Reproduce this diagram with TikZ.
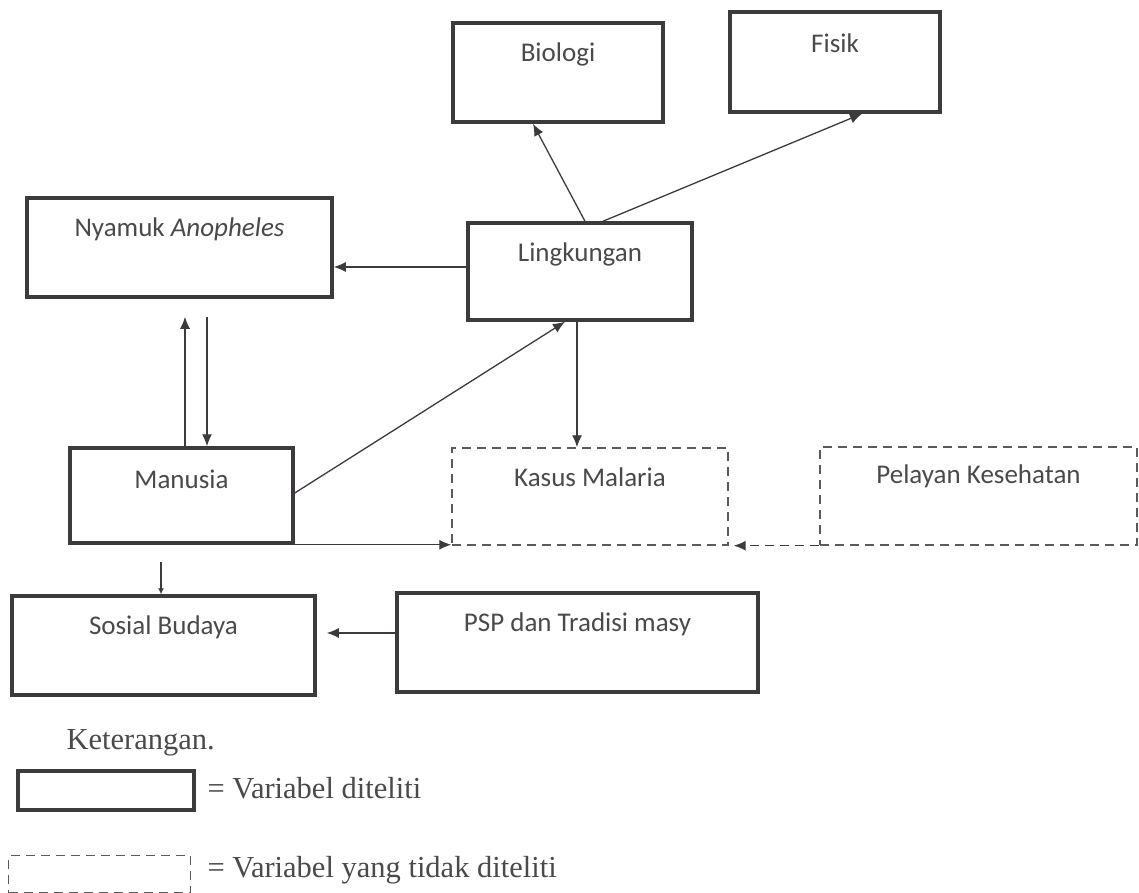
\documentclass[tikz,border=0pt]{standalone}
\usepackage{fontspec}
\usepackage{xcolor}
\usetikzlibrary{arrows.meta}
\newfontfamily\boxfont{Carlito}
\newfontfamily\legendfont{Liberation Serif}
\definecolor{borderdark}{RGB}{60, 58, 60}
\definecolor{textgray}{RGB}{74, 74, 74}
\definecolor{dashgray}{RGB}{90, 90, 90}

\begin{document}
\begin{tikzpicture}[
  x=1pt, y=-1pt,
  varbox/.style={rectangle, draw=borderdark, line width=3.5pt, inner sep=0pt},
  dashbox/.style={rectangle, draw=dashgray, line width=1.4pt, dash pattern=on 9pt off 6pt, inner sep=0pt},
  boxlabel/.style={anchor=center, yshift=-33pt, text=textgray, font=\boxfont\fontsize{27}{32}\selectfont},
  legendtext/.style={anchor=west, text=textgray, font=\legendfont\fontsize{30.5}{36}\selectfont},
  arrow/.style={-{Latex[length=12pt,width=10pt]}, line width=1.3pt, color=borderdark},
  smallarrow/.style={-{Latex[length=6pt,width=6pt]}, line width=1.1pt, color=borderdark}
]
\fill[white] (0,0) rectangle (1139,893);
\useasboundingbox (0,0) rectangle (1139,893);

% variables
\node[varbox, minimum width=210pt, minimum height=99pt, label={[boxlabel]north:Biologi}] (biologi) at (558,72.5) {};
\node[varbox, minimum width=210pt, minimum height=100pt, label={[boxlabel]north:Fisik}] (fisik) at (835,62) {};
\node[varbox, minimum width=305pt, minimum height=99pt, label={[boxlabel]north:Nyamuk \textit{Anopheles}}] (nyamuk) at (179.5,247.5) {};
\node[varbox, minimum width=224pt, minimum height=97pt, label={[boxlabel]north:Lingkungan}] (ling) at (580,271.5) {};
\node[varbox, minimum width=223pt, minimum height=95pt, label={[boxlabel]north:Manusia}] (manusia) at (181.5,495.5) {};
\node[dashbox, minimum width=276pt, minimum height=97pt, label={[boxlabel, yshift=3pt]north:Kasus Malaria}] (kasus) at (590,496.5) {};
\node[dashbox, minimum width=317pt, minimum height=98pt, label={[boxlabel, yshift=3pt]north:Pelayan Kesehatan}] (pelayan) at (978.5,496) {};
\node[varbox, minimum width=303pt, minimum height=99pt, label={[boxlabel]north:Sosial Budaya}] (sosial) at (163.5,645.5) {};
\node[varbox, minimum width=361pt, minimum height=99pt, label={[boxlabel]north:PSP dan Tradisi masy}] (psp) at (577.5,642.5) {};

% connectors
\draw[arrow] ([xshift=5pt]ling.north) -- ([xshift=-25pt]biologi.south);
\draw[arrow] ([xshift=23pt]ling.north) -- ([xshift=27pt]fisik.south);
\draw[arrow] ([yshift=4.5pt]ling.west) -- ([yshift=4.5pt]ling.west -| nyamuk.east);
\draw[arrow] ([xshift=3.5pt]manusia.north) -- ([xshift=5.5pt,yshift=-18pt]nyamuk.south);
\draw[arrow] ([xshift=27.5pt,yshift=-18pt]nyamuk.south) -- ([xshift=25.5pt]manusia.north);
\draw[arrow] ([yshift=2.5pt]manusia.east) -- ([xshift=-15pt]ling.south);
\draw[arrow] ([xshift=-3pt]ling.south) -- ([xshift=-13pt]kasus.north);
\draw[arrow] (manusia.south east) -- (manusia.south east -| kasus.west);
\draw[arrow, dash pattern=on 9pt off 6pt] (pelayan.south west) -- ([xshift=5pt]kasus.south east);
\draw[smallarrow] ([xshift=-20.5pt,yshift=-17pt]manusia.south) -- ([xshift=-2.5pt]sosial.north);
\draw[arrow] ([yshift=9.5pt]psp.west) -- ([xshift=10pt,yshift=12.5pt]sosial.east);

% legend
\node[legendtext] (ket) at (63,743) {Keterangan.};
\node[varbox, minimum width=176pt, minimum height=39pt, anchor=north west] (legsolid) at (16,769) {};
\node[legendtext] (legsolidtext) at (204,788) {= Variabel diteliti};
\node[dashbox, minimum width=182pt, minimum height=37pt, anchor=north west] (legdash) at (8,855) {};
\node[legendtext] (legdashtext) at (204,870) {= Variabel yang tidak diteliti};
\end{tikzpicture}
\end{document}
